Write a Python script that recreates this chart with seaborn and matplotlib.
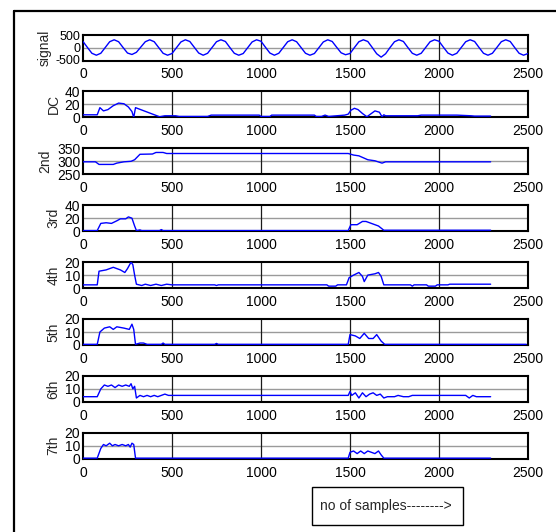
import matplotlib
matplotlib.use("Agg")
import matplotlib.pyplot as plt
from matplotlib.lines import Line2D
from matplotlib.patches import Rectangle
import seaborn as sns
import pandas as pd

# ---------------- data ----------------
panel_names = ["signal", "DC", "2nd", "3rd", "4th", "5th", "6th", "7th"]
x_ticks = [0, 500, 1000, 1500, 2000, 2500]

signal_x = list(range(0, 2501, 25))
signal_y = [250, 0, -240, -320, -240, 0, 240, 320,
            240, 0, -230, -290, -200, 20, 240, 320,
            240, 0, -240, -320, -250, -10, 230, 320,
            250, 10, -230, -320, -240, 0, 240, 320,
            250, 0, -240, -320, -250, -10, 230, 320,
            260, 10, -230, -320, -240, 0, 240, 320,
            240, 0, -240, -320, -250, -10, 230, 320,
            250, 10, -220, -300, -250, 0, 240, 320,
            250, 0, -260, -400, -260, 0, 240, 320,
            250, 0, -240, -320, -240, 0, 240, 320,
            260, 10, -230, -320, -240, 0, 240, 320,
            250, 0, -240, -320, -240, 0, 240, 320,
            250, 0, -240, -320, -250]

dc_x = [0, 80, 95, 115, 140, 170, 200, 230, 255, 275, 285, 295, 430, 460, 520, 540,
        700, 720, 990, 1000, 1050, 1060, 1300, 1310, 1340, 1360, 1380, 1470, 1490,
        1505, 1525, 1545, 1570, 1595, 1620, 1640, 1665, 1680, 1690, 1700, 1880, 1900,
        2100, 2180, 2200, 2290]
dc_y = [4, 4, 15, 10, 12, 18, 22, 21, 16, 9, 0, 15, 1, 2.5, 2.5, 1.5,
        1.5, 3.5, 3.5, 1.5, 1.5, 3.5, 3.5, 1.5, 1.5, 3.5, 1.5, 3.5, 5,
        11, 14, 12, 6, 1, 6, 10, 8, 1, 4, 2.5, 2.5, 3.5,
        3.5, 2.5, 2, 2]

h2_x = [0, 70, 90, 170, 190, 230, 270, 290, 320, 390, 410, 450, 470, 1490, 1520,
        1550, 1600, 1640, 1680, 1700, 2290]
h2_y = [298, 298, 288, 288, 293, 298, 300, 306, 327, 328, 334, 334, 330, 330, 324,
        321, 306, 302, 293, 298, 298]

h3_x = [0, 80, 100, 130, 160, 190, 210, 240, 255, 275, 290, 300, 320, 330, 430, 440,
        450, 1490, 1505, 1540, 1570, 1590, 1620, 1660, 1690, 2290]
h3_y = [1, 1, 12, 13, 12, 16, 19, 19, 22, 20, 8, 1, 2, 1, 1, 2.5,
        1, 1, 10, 10, 15, 15, 12, 8, 1.5, 1.5]

h4_x = [0, 80, 90, 130, 170, 210, 235, 250, 270, 280, 290, 300, 330, 350, 380, 410,
        440, 470, 500, 740, 750, 760, 1370, 1380, 1420, 1430, 1480, 1495, 1520, 1550,
        1570, 1580, 1600, 1640, 1660, 1675, 1690, 1700, 1840, 1850, 1860, 1930, 1940,
        1980, 1990, 2050, 2060, 2290]
h4_y = [2.5, 2.5, 13, 14, 16, 14, 12, 15, 20, 18, 10, 3, 2, 3, 2, 3,
        2, 3, 2.5, 2.5, 2, 2.5, 2.5, 1.5, 1.5, 2.5, 2.5, 8, 10, 12,
        9, 5, 10, 11, 12, 9, 2.5, 2.5, 2.5, 1.5, 2.5, 2.5, 1.5,
        1.5, 2.5, 2.5, 3, 3]

h5_x = [0, 80, 95, 120, 150, 170, 190, 230, 260, 275, 285, 295, 320, 340, 360, 440,
        450, 460, 740, 750, 760, 1490, 1500, 1530, 1555, 1580, 1605, 1630, 1650, 1675,
        1695, 2490]
h5_y = [0.5, 0.5, 10, 13, 14, 12, 14, 13, 12, 16, 12, 0.5, 1.5, 1.5, 0.5, 0.5,
        1.5, 0.5, 0.5, 1.2, 0.5, 0.5, 8, 7, 5, 9, 5, 5, 8, 3,
        0.5, 0.5]

h6_x = [0, 80, 100, 120, 140, 160, 180, 200, 220, 240, 260, 270, 280, 290, 300, 320,
        340, 360, 380, 400, 420, 440, 460, 480, 1490, 1500, 1510, 1530, 1550, 1570,
        1590, 1610, 1630, 1650, 1670, 1690, 1710, 1750, 1770, 1800, 1830, 1850, 2150,
        2170, 2190, 2210, 2230, 2290]
h6_y = [4, 4, 10, 13, 12, 13, 11, 13, 12, 13, 12, 14, 10, 12, 3, 5,
        4, 5, 4, 5, 4, 5, 6, 5, 5, 8, 5, 7, 3, 7,
        4, 6, 7, 5, 6, 3, 4, 4, 5, 4, 4, 5, 5,
        3, 5, 4, 4, 4]

h7_x = [0, 80, 100, 115, 130, 150, 165, 180, 200, 220, 240, 255, 265, 275, 285, 295,
        305, 1490, 1500, 1520, 1540, 1560, 1580, 1600, 1620, 1640, 1660, 1675, 1690, 2290]
h7_y = [0.5, 0.5, 8, 11, 10, 12, 10, 11, 10, 11, 10, 11, 9, 12, 11, 0.5,
        0.5, 0.5, 5, 6, 4, 6, 4, 6, 5, 4, 6, 3, 0.5, 0.5]

series_x = [signal_x, dc_x, h2_x, h3_x, h4_x, h5_x, h6_x, h7_x]
series_y = [signal_y, dc_y, h2_y, h3_y, h4_y, h5_y, h6_y, h7_y]
y_limits = [(-540, 540), (0, 40), (250, 350), (0, 40), (0, 20), (0, 20), (0, 20), (0, 20)]
y_ticks = [[-500, 0, 500], [0, 20, 40], [250, 300, 350], [0, 20, 40],
           [0, 10, 20], [0, 10, 20], [0, 10, 20], [0, 10, 20]]
box_text = "no of samples-------->"

# ---------------- style ----------------
sns.set_style("white")
plt.rcParams["font.family"] = ["Liberation Sans", "DejaVu Sans"]
FS = 10

W, H = 556, 532
fig = plt.figure(figsize=(W / 100, H / 100), dpi=100)
fig.patch.set_facecolor("white")

left_px, width_px, top0, step, h_px = 83, 445, 34.5, 56.9, 26

for i, name in enumerate(panel_names):
    top = top0 + step * i
    ax = fig.add_axes([left_px / W, 1 - (top + h_px) / H, width_px / W, h_px / H])
    df = pd.DataFrame({"x": series_x[i], "y": series_y[i]})
    ax.axhline(y_ticks[i][1], color="#9a9a9a", lw=1.0, zorder=1)
    for xv in x_ticks[1:-1]:
        ax.axvline(xv, color="#1a1a1a", lw=0.9, zorder=1)
    sns.lineplot(data=df, x="x", y="y", ax=ax, color="#0000ff", linewidth=1.0,
                 estimator=None, sort=False, zorder=3)
    ax.set_xlim(0, 2500)
    ax.set_ylim(*y_limits[i])
    ax.set_xticks(x_ticks)
    ax.set_xticklabels([str(v) for v in x_ticks], fontsize=FS)
    ax.set_yticks(y_ticks[i])
    ax.set_yticklabels([str(v) for v in y_ticks[i]], fontsize=(9 if i == 0 else FS))
    ax.tick_params(axis="both", direction="in", length=2, width=0.8, pad=2,
                   colors="black", labelcolor="black")
    ax.tick_params(axis="x", pad=5)
    ax.set_xlabel("")
    ax.set_ylabel(name, fontsize=FS, labelpad=3)
    for sp in ax.spines.values():
        sp.set_visible(True)
        sp.set_color("black")
        sp.set_linewidth(1.5)
    ax.set_facecolor("white")

# outer frame (top and left edges visible)
fig.add_artist(Line2D([14 / W, 1.0], [1 - 11 / H, 1 - 11 / H], transform=fig.transFigure,
                      color="black", lw=1.6))
fig.add_artist(Line2D([14 / W, 14 / W], [1 - 11 / H, 0.0], transform=fig.transFigure,
                      color="black", lw=1.6))

# annotation box
bx0, bx1, by0, by1 = 312, 463, 487, 525
fig.add_artist(Rectangle((bx0 / W, 1 - by1 / H), (bx1 - bx0) / W, (by1 - by0) / H,
                         transform=fig.transFigure, fill=False, edgecolor="black", lw=1.0))
fig.text(320 / W, 1 - 506 / H, box_text, fontsize=FS, ha="left", va="center")

fig.savefig("out.png", dpi=100, facecolor="white")
